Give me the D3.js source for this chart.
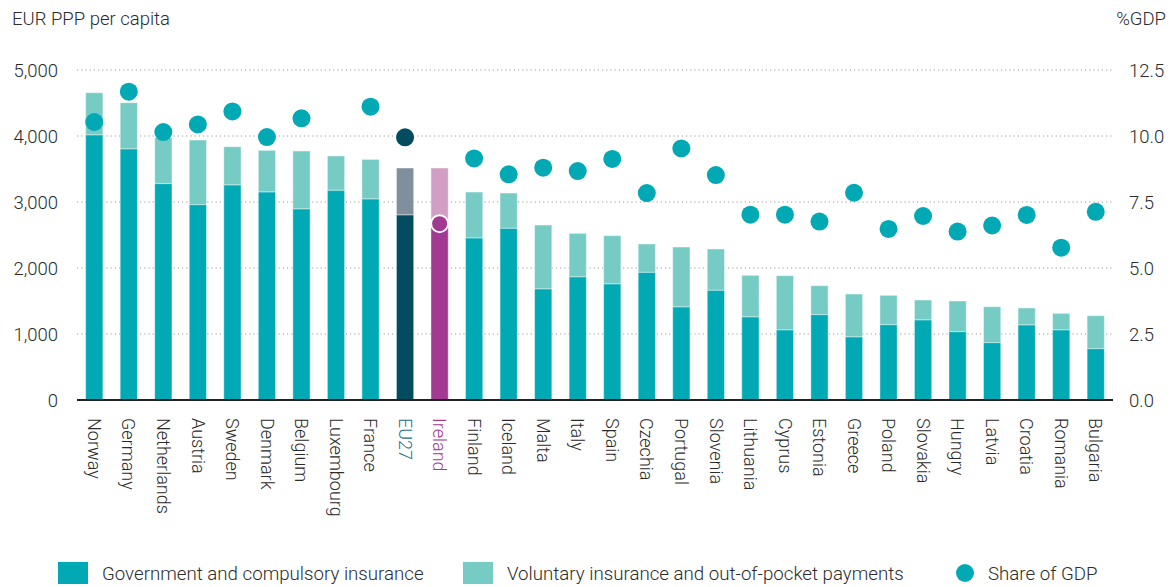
<!DOCTYPE html>
<html>
<head>
<meta charset="utf-8">
<script src="https://cdn.jsdelivr.net/npm/d3@7"></script>
<style>
  body { margin: 0; background: #fff; }
  text { font-family: Roboto, "Noto Sans", sans-serif; font-weight: 300; fill: #2b2b2b; }
</style>
</head>
<body>
<script>
/* health spending per capita, split by financing, with share of GDP */
var countries = ["Norway", "Germany", "Netherlands", "Austria", "Sweden", "Denmark", "Belgium", "Luxembourg", "France", "EU27", "Ireland",
  "Finland", "Iceland", "Malta", "Italy", "Spain", "Czechia", "Portugal", "Slovenia", "Lithuania", "Cyprus", "Estonia", "Greece",
  "Poland", "Slovakia", "Hungry", "Latvia", "Croatia", "Romania", "Bulgaria"];
var govValues = [4015, 3803, 3278, 2960, 3257, 3151, 2894, 3177, 3045, 2803, 2690,
  2454, 2601, 1682, 1864, 1758, 1934, 1409, 1662, 1258, 1061, 1293, 955,
  1141, 1212, 1035, 869, 1136, 1061, 778];
var totalValues = [4656, 4505, 3975, 3939, 3838, 3783, 3773, 3697, 3646, 3515, 3515,
  3151, 3136, 2651, 2525, 2490, 2364, 2318, 2288, 1889, 1884, 1732, 1606,
  1586, 1515, 1500, 1414, 1394, 1313, 1278];
var gdpShare = [10.53, 11.68, 10.15, 10.44, 10.93, 9.96, 10.67, null, 11.11, 9.95, 6.68,
  9.15, 8.55, 8.80, 8.67, 9.13, 7.84, 9.53, 8.52, 7.02, 7.02, 6.76, 7.85,
  6.48, 6.97, 6.38, 6.61, 7.01, 5.77, 7.13];
var leftTicks = [0, 1000, 2000, 3000, 4000, 5000];
var rightTicks = [0, 2.5, 5, 7.5, 10, 12.5];
var legendLabels = ["Government and compulsory insurance", "Voluntary insurance and out-of-pocket payments", "Share of GDP"];

var width = 1174, height = 587;
var plotLeft = 77, plotRight = 1113, plotTop = 70, plotBottom = 400;

var svg = d3.select("body").append("svg")
  .attr("width", width)
  .attr("height", height);

var x = d3.scaleBand().domain(countries).range([plotLeft, plotRight]).paddingInner(0.5).paddingOuter(0.25);
var y = d3.scaleLinear().domain([0, 5000]).range([plotBottom, plotTop]);
var y2 = d3.scaleLinear().domain([0, 12.5]).range([plotBottom, plotTop]);

function darkColor(c) {
  if (c == "EU27") return "#034b5f";
  if (c == "Ireland") return "#a33a91";
  return "#00a9b4";
}
function lightColor(c) {
  if (c == "EU27") return "#7f8f9d";
  if (c == "Ireland") return "#d19fc4";
  return "#77cbc5";
}

// gridlines
svg.selectAll(".grid")
  .data(leftTicks.slice(1))
  .enter().append("line")
  .attr("x1", plotLeft).attr("x2", plotRight)
  .attr("y1", function(d) { return y(d); })
  .attr("y2", function(d) { return y(d); })
  .attr("stroke", "#9a9a9a")
  .attr("stroke-width", 1)
  .attr("stroke-dasharray", "1.2,3");

// left axis
var la = svg.append("g").attr("transform", "translate(" + plotLeft + ",0)")
  .call(d3.axisLeft(y).tickValues(leftTicks).tickFormat(d3.format(",")).tickSize(0).tickPadding(19));
la.select(".domain").remove();
la.selectAll("text").style("font-size", "18.5px").attr("dy", "0.36em");

// right axis
var ra = svg.append("g").attr("transform", "translate(" + plotRight + ",0)")
  .call(d3.axisRight(y2).tickValues(rightTicks).tickFormat(d3.format(".1f")).tickSize(0).tickPadding(16));
ra.select(".domain").remove();
ra.selectAll("text").style("font-size", "18.5px").attr("dy", "0.36em");

svg.append("text").attr("x", 12).attr("y", 25).style("font-size", "18.5px").text("EUR PPP per capita");
svg.append("text").attr("x", 1166).attr("y", 25).attr("text-anchor", "end").style("font-size", "18.5px").text("%GDP");

var rows = countries.map(function(c, i) {
  return { name: c, gov: govValues[i], total: totalValues[i], gdp: gdpShare[i] };
});

// voluntary part (top)
svg.selectAll(".vol")
  .data(rows)
  .enter().append("rect")
  .attr("x", function(d) { return x(d.name); })
  .attr("width", x.bandwidth())
  .attr("y", function(d) { return y(d.total); })
  .attr("height", function(d) { return y(d.gov) - y(d.total); })
  .attr("fill", function(d) { return lightColor(d.name); })
  .attr("stroke", "rgba(255,255,255,0.45)")
  .attr("stroke-width", 1);

// government part
svg.selectAll(".gov")
  .data(rows)
  .enter().append("rect")
  .attr("x", function(d) { return x(d.name); })
  .attr("width", x.bandwidth())
  .attr("y", function(d) { return y(d.gov); })
  .attr("height", function(d) { return y(0) - y(d.gov); })
  .attr("fill", function(d) { return darkColor(d.name); })
  .attr("stroke", "rgba(255,255,255,0.45)")
  .attr("stroke-width", 1);

// baseline
svg.append("line")
  .attr("x1", plotLeft).attr("x2", plotRight)
  .attr("y1", y(0)).attr("y2", y(0))
  .attr("stroke", "#222").attr("stroke-width", 2);

// share of GDP dots
svg.selectAll(".dot")
  .data(rows.filter(function(d) { return d.gdp != null; }))
  .enter().append("circle")
  .attr("cx", function(d) { return x(d.name) + x.bandwidth() / 2; })
  .attr("cy", function(d) { return y2(d.gdp); })
  .attr("r", function(d) { return d.name == "Ireland" ? 8.5 : 9; })
  .attr("fill", function(d) { return darkColor(d.name); })
  .attr("stroke", function(d) { return d.name == "Ireland" ? "#fff" : "none"; })
  .attr("stroke-width", 2);

// country labels
svg.selectAll(".xlab")
  .data(countries)
  .enter().append("text")
  .attr("transform", function(d) {
    return "translate(" + (x(d) + x.bandwidth() / 2) + ",418) rotate(90)";
  })
  .attr("dy", "0.35em")
  .style("font-size", "18px")
  .style("fill", function(d) {
    if (d == "EU27") return "#1f6e86";
    if (d == "Ireland") return "#a33a91";
    return "#2b2b2b";
  })
  .text(function(d) { return d; });

// legend
var lg = svg.append("g");
lg.append("rect").attr("x", 58).attr("y", 562).attr("width", 30).attr("height", 22).attr("fill", "#00a9b4");
lg.append("text").attr("x", 102).attr("y", 580).style("font-size", "18.7px").text(legendLabels[0]);
lg.append("rect").attr("x", 463).attr("y", 562).attr("width", 30).attr("height", 22).attr("fill", "#77cbc5");
lg.append("text").attr("x", 507).attr("y", 580).style("font-size", "18.7px").text(legendLabels[1]);
lg.append("circle").attr("cx", 965).attr("cy", 573).attr("r", 9).attr("fill", "#00a9b4");
lg.append("text").attr("x", 988).attr("y", 580).style("font-size", "18.7px").text(legendLabels[2]);
</script>
</body>
</html>
